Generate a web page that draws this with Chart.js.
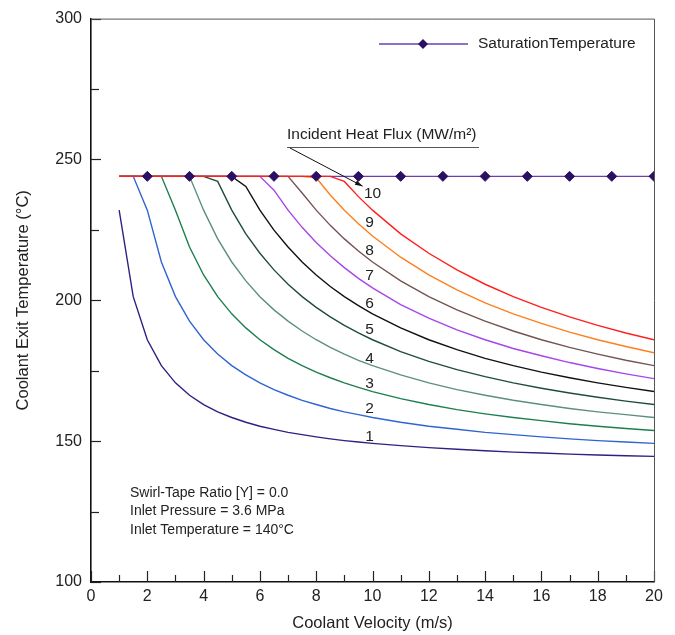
<!DOCTYPE html>
<html>
<head>
<meta charset="utf-8">
<script src="https://cdn.jsdelivr.net/npm/chart.js@4.4.1/dist/chart.umd.min.js"></script>
<style>
  body { margin: 0; background: #fff; }
  #wrap { width: 675px; height: 635px; position: relative; }
</style>
</head>
<body>
<div id="wrap"><canvas id="chart"></canvas></div>
<script>
// coolant velocity (m/s) shared by all heat-flux curves
const velocity = [1, 1.5, 2, 2.5, 3, 3.5, 4, 4.5, 5, 5.5, 6, 6.5, 7, 7.5, 8, 8.5, 9, 9.5, 10,
                  11, 12, 13, 14, 15, 16, 17, 18, 19, 20];

// exit temperature (C) for incident heat flux 1..10 MW/m2
const flux1 = [232.0, 201.3, 186.0, 176.8, 170.7, 166.3, 163.0, 160.4, 158.4, 156.7, 155.3, 154.2, 153.1, 152.3, 151.5, 150.8, 150.2, 149.7, 149.2,
               148.4, 147.7, 147.1, 146.6, 146.1, 145.8, 145.4, 145.1, 144.8, 144.6];
const flux2 = [244, 244, 232.0, 213.6, 201.3, 192.6, 186.0, 180.9, 176.8, 173.5, 170.7, 168.3, 166.3, 164.5, 163.0, 161.6, 160.4, 159.4, 158.4,
               156.7, 155.3, 154.2, 153.1, 152.3, 151.5, 150.8, 150.2, 149.7, 149.2];
const flux3 = [244, 244, 244, 244, 232.0, 218.9, 209.0, 201.3, 195.2, 190.2, 186.0, 182.5, 179.4, 176.8, 174.5, 172.5, 170.7, 169.1, 167.6,
               165.1, 163.0, 161.2, 159.7, 158.4, 157.3, 156.2, 155.3, 154.5, 153.8];
const flux4 = [244, 244, 244, 244, 244, 244, 232.0, 221.8, 213.6, 206.9, 201.3, 196.6, 192.6, 189.1, 186.0, 183.3, 180.9, 178.7, 176.8,
               173.5, 170.7, 168.3, 166.3, 164.5, 163.0, 161.6, 160.4, 159.4, 158.4];
const flux5 = [244, 244, 244, 244, 244, 244, 244, 242.2, 232.0, 223.6, 216.7, 210.8, 205.7, 201.3, 197.5, 194.1, 191.1, 188.4, 186.0,
               181.8, 178.3, 175.4, 172.9, 170.7, 168.8, 167.1, 165.6, 164.2, 163.0];
const flux6 = [244, 244, 244, 244, 244, 244, 244, 244, 244, 240.4, 232.0, 224.9, 218.9, 213.6, 209.0, 204.9, 201.3, 198.1, 195.2,
               190.2, 186.0, 182.5, 179.4, 176.8, 174.5, 172.5, 170.7, 169.1, 167.6];
const flux7 = [244, 244, 244, 244, 244, 244, 244, 244, 244, 244, 244, 239.1, 232.0, 225.9, 220.5, 215.8, 211.6, 207.8, 204.4,
               198.5, 193.7, 189.5, 186.0, 182.9, 180.3, 177.9, 175.8, 173.9, 172.2];
const flux8 = [244, 244, 244, 244, 244, 244, 244, 244, 244, 244, 244, 244, 244, 238.1, 232.0, 226.6, 221.8, 217.5, 213.6,
               206.9, 201.3, 196.6, 192.6, 189.1, 186.0, 183.3, 180.9, 178.7, 176.8];
const flux9 = [244, 244, 244, 244, 244, 244, 244, 244, 244, 244, 244, 244, 244, 244, 243.5, 237.4, 232.0, 227.2, 222.8,
               215.3, 209.0, 203.7, 199.1, 195.2, 191.8, 188.7, 186.0, 183.6, 181.4];
const flux10 = [244, 244, 244, 244, 244, 244, 244, 244, 244, 244, 244, 244, 244, 244, 244, 244, 242.2, 236.8, 232.0,
                223.6, 216.7, 210.8, 205.7, 201.3, 197.5, 194.1, 191.1, 188.4, 186.0];

// saturation temperature line
const satVelocity = [2, 3.5, 5, 6.5, 8, 9.5, 11, 12.5, 14, 15.5, 17, 18.5, 20];
const satTemp = [244, 244, 244, 244, 244, 244, 244, 244, 244, 244, 244, 244, 244];

const fluxLabels = ['1', '2', '3', '4', '5', '6', '7', '8', '9', '10'];
const fluxSeries = [flux1, flux2, flux3, flux4, flux5, flux6, flux7, flux8, flux9, flux10];
const fluxColors = ['#2e2183', '#3064d0', '#1d7f4f', '#5b8f82', '#1f4d3a',
                    '#111111', '#a646e8', '#735453', '#ff7f1e', '#ff1f1f'];

const FONT = '"Liberation Sans", Arial, sans-serif';

function points(xs, ys) {
    return xs.map((x, i) => ({ x: x, y: ys[i] }));
}

const datasets = [];
// markers on top of everything
datasets.push({
    label: 'satMarkers',
    data: points(satVelocity, satTemp),
    showLine: false,
    pointStyle: 'rectRot',
    pointRadius: 5,
    pointBackgroundColor: '#2a0f62',
    pointBorderColor: '#2a0f62',
    order: 0
});
fluxSeries.forEach((s, i) => {
    datasets.push({
        label: fluxLabels[i],
        data: points(velocity, s),
        borderColor: fluxColors[i],
        borderWidth: 1.4,
        pointRadius: 0,
        tension: 0,
        order: 10 - i
    });
});
// the line itself sits under the curves
datasets.push({
    label: 'SaturationTemperature',
    data: points(satVelocity, satTemp),
    borderColor: '#6c3fb0',
    borderWidth: 1.4,
    pointRadius: 0,
    order: 20
});

// ticks, frame, legend and text notes
const decorations = {
    id: 'decorations',
    afterDraw(chart) {
        const ctx = chart.ctx;
        const xs = chart.scales.x, ys = chart.scales.y;
        const a = chart.chartArea;
        ctx.save();

        // inward ticks
        ctx.strokeStyle = '#222';
        ctx.lineWidth = 1.2;
        for (let v = 0; v <= 20; v++) {
            const px = Math.round(xs.getPixelForValue(v)) + 0.5;
            const len = v % 2 === 0 ? 11 : 7;
            ctx.beginPath(); ctx.moveTo(px, a.bottom); ctx.lineTo(px, a.bottom - len); ctx.stroke();
        }
        for (let v = 100; v <= 300; v += 25) {
            const py = Math.round(ys.getPixelForValue(v)) + 0.5;
            const len = v % 50 === 0 ? 10 : 8;
            ctx.beginPath(); ctx.moveTo(a.left, py); ctx.lineTo(a.left + len, py); ctx.stroke();
        }

        // top and right frame
        ctx.strokeStyle = '#555';
        ctx.lineWidth = 1;
        ctx.beginPath();
        ctx.moveTo(a.left, a.top + 0.5); ctx.lineTo(a.right + 0.5, a.top + 0.5); ctx.lineTo(a.right + 0.5, a.bottom);
        ctx.stroke();

        // legend
        const ly = 44;
        ctx.strokeStyle = '#6c3fb0';
        ctx.lineWidth = 1.4;
        ctx.beginPath(); ctx.moveTo(379, ly); ctx.lineTo(468, ly); ctx.stroke();
        ctx.fillStyle = '#2a0f62';
        ctx.beginPath();
        ctx.moveTo(423 - 5, ly); ctx.lineTo(423, ly - 5); ctx.lineTo(423 + 5, ly); ctx.lineTo(423, ly + 5);
        ctx.closePath(); ctx.fill();
        ctx.fillStyle = '#222';
        ctx.font = '15.5px ' + FONT;
        ctx.textAlign = 'left';
        ctx.textBaseline = 'middle';
        ctx.fillText('SaturationTemperature', 478, ly);

        // heat flux note with leader arrow
        ctx.fillText('Incident Heat Flux (MW/m²)', 287, 135);
        ctx.strokeStyle = '#555';
        ctx.lineWidth = 1;
        ctx.beginPath(); ctx.moveTo(287, 147.5); ctx.lineTo(479, 147.5); ctx.stroke();
        const tipX = xs.getPixelForValue(9.65), tipY = ys.getPixelForValue(240.5);
        const sx = 290, sy = 148;
        ctx.strokeStyle = '#111';
        ctx.beginPath(); ctx.moveTo(sx, sy); ctx.lineTo(tipX, tipY); ctx.stroke();
        const ang = Math.atan2(tipY - sy, tipX - sx);
        ctx.fillStyle = '#111';
        ctx.beginPath();
        ctx.moveTo(tipX, tipY);
        ctx.lineTo(tipX - 8 * Math.cos(ang - 0.3), tipY - 8 * Math.sin(ang - 0.3));
        ctx.lineTo(tipX - 8 * Math.cos(ang + 0.3), tipY - 8 * Math.sin(ang + 0.3));
        ctx.closePath(); ctx.fill();

        // curve numbers
        const labelY = [151.5, 161.6, 170.5, 179.3, 189.6, 198.8, 208.9, 217.7, 227.4, 237.9];
        ctx.fillStyle = '#222';
        ctx.textAlign = 'center';
        fluxLabels.forEach((t, i) => {
            const lx = xs.getPixelForValue(i === 9 ? 10.0 : 9.9);
            ctx.fillText(t, lx, ys.getPixelForValue(labelY[i]));
        });

        // operating conditions
        ctx.textAlign = 'left';
        ctx.font = '14px ' + FONT;
        ctx.fillText('Swirl-Tape Ratio [Y] = 0.0', 130, 493);
        ctx.fillText('Inlet Pressure = 3.6 MPa', 130, 511.5);
        ctx.fillText('Inlet Temperature = 140°C', 130, 530);

        ctx.restore();
    }
};

const ctx = document.getElementById('chart').getContext('2d');
new Chart(ctx, {
    type: 'scatter',
    data: { datasets: datasets },
    options: {
        responsive: true,
        maintainAspectRatio: false,
        animation: false,
        showLine: true,
        layout: { padding: { top: 18, right: 21, left: 0, bottom: 0 } },
        plugins: {
            legend: { display: false },
            tooltip: { enabled: false }
        },
        scales: {
            x: {
                type: 'linear',
                min: 0, max: 20,
                afterFit: (s) => { s.height = 53; },
                ticks: { stepSize: 2, padding: 5, color: '#222', font: { family: FONT, size: 16 } },
                grid: { display: true, drawOnChartArea: false, drawTicks: false },
                border: { display: true, color: '#111', width: 1.6 },
                title: { display: true, text: 'Coolant Velocity (m/s)', color: '#222',
                         font: { family: FONT, size: 16.5 }, padding: { top: 0, bottom: 2 } }
            },
            y: {
                type: 'linear',
                min: 100, max: 300,
                afterFit: (s) => { s.width = 91; },
                ticks: { stepSize: 50, padding: 9, color: '#222', font: { family: FONT, size: 16 } },
                grid: { display: true, drawOnChartArea: false, drawTicks: false },
                border: { display: true, color: '#111', width: 1.6 },
                title: { display: true, text: 'Coolant Exit Temperature (°C)', color: '#222',
                         font: { family: FONT, size: 16.5 }, padding: { top: 14, bottom: 0 } }
            }
        }
    },
    plugins: [decorations]
});
</script>
</body>
</html>
